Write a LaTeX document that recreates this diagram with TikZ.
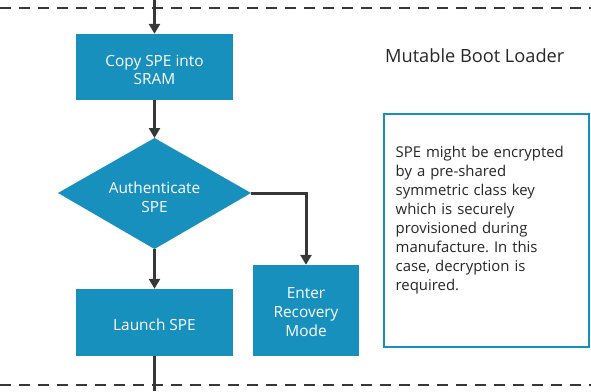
\documentclass[tikz,border=0pt]{standalone}
\usepackage{fontspec}
\setmainfont{Open Sans}
\frenchspacing
\usetikzlibrary{shapes.geometric,arrows.meta}
\definecolor{stepblue}{RGB}{24,144,190}
\definecolor{flowgray}{RGB}{55,55,55}
\tikzset{
  boxfont/.style={font=\fontsize{15.4}{18.5}\selectfont},
  stepbox/.style={fill=stepblue, draw=none, text=white, align=center, boxfont, inner sep=0pt},
  flow/.style={draw=flowgray, line width=3pt, -{Triangle[width=11pt,length=10pt]}},
  divider/.style={draw=flowgray, line width=1.8pt, dash pattern=on 11pt off 8pt}
}
\begin{document}
\begin{tikzpicture}[x=1pt,y=-1pt]
  \useasboundingbox (0,0) rectangle (591,391);
  % section dividers
  \coordinate (topL) at (0,8);
  \coordinate (topR) at (591,8);
  \coordinate (botL) at (0,385);
  \coordinate (botR) at (591,385);
  \draw[divider] (topL) -- (topR);
  \draw[divider] (botL) -- (botR);

  % flow steps
  \node[stepbox, minimum width=157pt, minimum height=66pt] (copy) at (154.5,67) {};
  \node[text=white, align=center, boxfont, inner sep=0pt] (copytext) at (154.5,70) {Copy SPE into\\SRAM};
  \path[fill=stepblue] (58,193) -- (154.5,138) -- (251,193) -- (154.5,249) -- cycle;
  \coordinate (auth) at (154.5,197);
  \coordinate (authN) at (154.5,138);
  \coordinate (authS) at (154.5,249);
  \coordinate (authE) at (251,193);
  \node[text=white, align=center, font=\fontsize{15.4}{19}\selectfont, inner sep=0pt] (authtext) at (auth) {Authenticate\\SPE};
  \node[stepbox, minimum width=157pt, minimum height=67pt] (launch) at (154.5,322.5) {};
  \node[text=white, boxfont, inner sep=0pt] (launchtext) at (154.5,325) {Launch SPE};
  \node[stepbox, minimum width=106pt, minimum height=91pt] (recovery) at (306,310.5) {};
  \node[text=white, align=center, font=\fontsize{15.4}{19}\selectfont, inner sep=0pt] (recoverytext) at (306,312) {Enter\\Recovery\\Mode};

  % connectors
  \coordinate (entry) at (154.5,0);
  \coordinate (exit) at (154.5,391);
  \draw[flow] (entry) -- (copy.north);
  \draw[flow] (copy.south) -- (authN);
  \draw[flow] (authS) -- (launch.north);
  \draw[flow] (authE) -| (recovery.north);
  \draw[draw=flowgray, line width=3pt] (launch.south) -- (exit);

  % section title
  \node[anchor=base west, font=\fontsize{18.2}{21}\selectfont, text=black!85, inner sep=0pt] (title) at (385,62) {Mutable Boot Loader};

  % side note
  \draw[draw=stepblue, line width=2pt] (383.5,114) rectangle (589,347);
  \node[anchor=north west, align=left, text width=190pt, inner sep=0pt, font=\fontsize{14.9}{19}\selectfont, text=black!85] (note) at (395.5,146)
    {SPE might be encrypted\\by a pre-shared\\symmetric class key\\which is securely\\provisioned during\\manufacture. In this\\case, decryption is\\required.};
\end{tikzpicture}
\end{document}
